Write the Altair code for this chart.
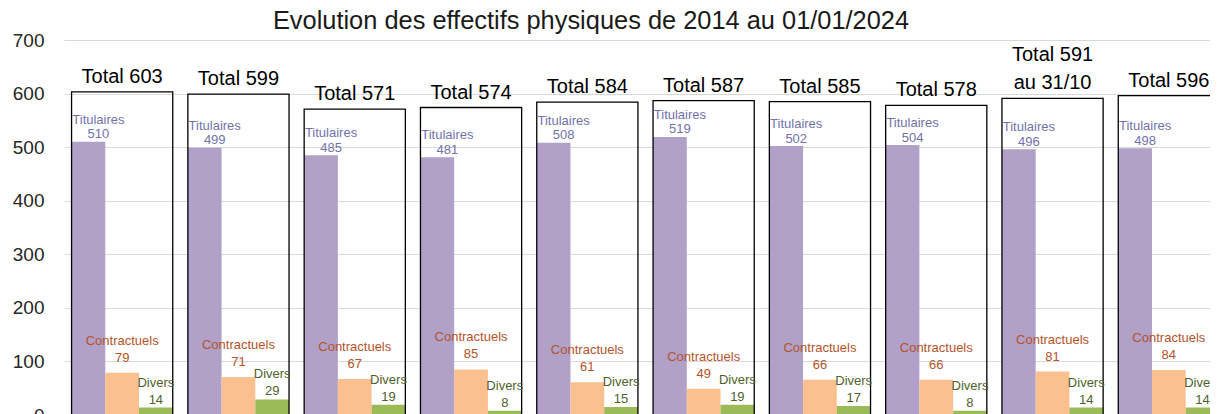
import altair as alt
import pandas as pd

groups = ["2014", "2015", "2016", "2017", "2018", "2019", "2020", "2021", "2022", "2024"]
titulaires = [510, 499, 485, 481, 508, 519, 502, 504, 496, 498]
contractuels = [79, 71, 67, 85, 61, 49, 66, 66, 81, 84]
divers = [14, 29, 19, 8, 15, 19, 17, 8, 14, 14]
totals = [603, 599, 571, 574, 584, 587, 585, 578, 591, 596]
total_line1 = ["", "", "", "", "", "", "", "", "Total 591", ""]
total_line2 = ["Total 603", "Total 599", "Total 571", "Total 574", "Total 584",
               "Total 587", "Total 585", "Total 578", "au 31/10", "Total 596"]
series = ["Titulaires", "Contractuels", "Divers"]
bar_colors = ["#b1a0c7", "#fac090", "#9bbb59"]
label_colors = ["#7272ab", "#b5532a", "#4f5f2a"]

FONT = "Liberation Sans"

rows = []
for i, g in enumerate(groups):
    for s, vals in zip(series, [titulaires, contractuels, divers]):
        rows.append({"group": g, "series": s, "value": vals[i], "vtxt": str(vals[i])})
df = pd.DataFrame(rows)
tot = pd.DataFrame({"group": groups, "total": totals, "l1": total_line1, "l2": total_line2})

# plot area extends past the visible window on the right and at the bottom, as in the reference
xscale = alt.Scale(domain=groups, paddingInner=0.13, paddingOuter=0.065, range=[0, 1163])
yscale = alt.Scale(domain=[0, 700], range=[375, 0])
x = alt.X("group:N", scale=xscale, axis=None)
y_axis = alt.Axis(values=[0, 100, 200, 300, 400, 500, 600, 700], title=None, domain=False, ticks=False,
                  labelFontSize=19, labelColor="#262626", labelFont=FONT, labelPadding=20,
                  gridColor="#d9d9d9", gridWidth=1)
xoff = alt.XOffset("series:N", scale=alt.Scale(domain=series, paddingInner=0, paddingOuter=0))

bars = alt.Chart(df).mark_bar().encode(
    x=x, xOffset=xoff,
    y=alt.Y("value:Q", scale=yscale, axis=y_axis),
    color=alt.Color("series:N", scale=alt.Scale(domain=series, range=bar_colors), legend=None),
)

boxes = alt.Chart(tot).mark_bar(fill="transparent", stroke="#000000", strokeWidth=1.3).encode(
    x=x, y=alt.Y("total:Q", scale=yscale),
)

tot_text2 = alt.Chart(tot).mark_text(baseline="alphabetic", dy=-9, fontSize=20, font=FONT,
                                     color="#000000").encode(
    x=x, y=alt.Y("total:Q", scale=yscale), text="l2:N",
)
tot_text1 = alt.Chart(tot).mark_text(baseline="alphabetic", dy=-37, fontSize=20, font=FONT,
                                     color="#000000").encode(
    x=x, y=alt.Y("total:Q", scale=yscale), text="l1:N",
)

# (dx, value gap, name gap)
offsets = {"Titulaires": (10, -3.5, -18), "Contractuels": (0, -11, -28), "Divers": (0, -4, -21)}
texts = []
for s, c in zip(series, label_colors):
    dx, gv, gn = offsets[s]
    base = alt.Chart(df).transform_filter(alt.datum.series == s)
    texts.append(base.mark_text(baseline="alphabetic", dx=dx, dy=gv, fontSize=13, font=FONT, color=c)
                 .encode(x=x, xOffset=xoff, y=alt.Y("value:Q", scale=yscale), text="vtxt:N"))
    texts.append(base.mark_text(baseline="alphabetic", dx=dx, dy=gn, fontSize=13, font=FONT, color=c)
                 .encode(x=x, xOffset=xoff, y=alt.Y("value:Q", scale=yscale), text="series:N"))

chart = alt.layer(bars, boxes, tot_text1, tot_text2, *texts).properties(
    width=1146, height=374,
    autosize=alt.AutoSizeParams(type="none"),
    padding={"left": 56, "top": 32, "right": 0, "bottom": 0},
    title=alt.TitleParams("Evolution des effectifs physiques de 2014 au 01/01/2024",
                          fontSize=25.4, font=FONT, fontWeight="normal", color="#1a1a1a",
                          anchor="middle", frame="group", dx=-46, dy=3, offset=0),
).configure_view(stroke=None)

chart.save("out.html", embed_options={"renderer": "svg", "actions": False})
